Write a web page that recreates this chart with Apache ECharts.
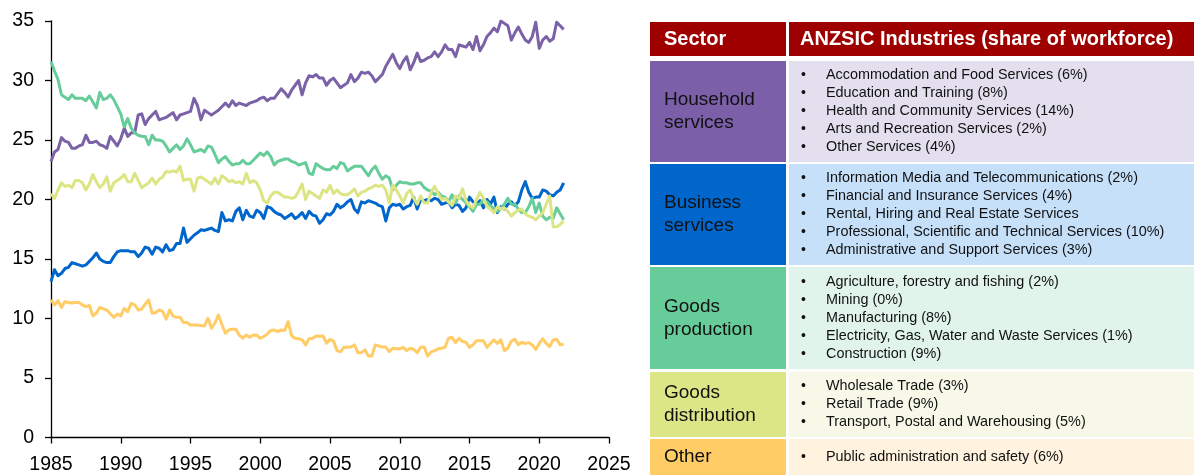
<!DOCTYPE html>
<html><head><meta charset="utf-8">
<script src="https://cdn.jsdelivr.net/npm/echarts@6/dist/echarts.min.js"></script>
<style>html,body{margin:0;padding:0;background:#fff}#c{width:1194px;height:475px}</style>
</head><body><div id="c"></div>
<script>
// Quarterly data, first point = 1985 Q1, one value per quarter
const startYear = 1985;
const seriesNames = ['Household services', 'Business services', 'Goods production', 'Goods distribution', 'Other'];
const household = [
23.2,24.0,24.2,25.2, 24.9,24.8,24.3,24.3, 24.5,24.6,25.4,24.8, 24.8,24.9,24.6,24.5,
24.3,25.3,24.9,24.5, 25.1,26.0,25.3,25.6, 25.6,27.1,27.2,26.3, 26.8,27.1,27.4,26.7,
26.8,26.9,27.1,27.3, 26.7,27.1,27.2,27.3, 27.4,28.5,27.9,26.7, 27.5,27.3,27.1,27.3,
27.5,27.8,28.1,27.8, 28.3,27.9,28.1,28.0, 27.9,28.1,28.2,28.3, 28.5,28.6,28.3,28.5,
28.5,28.9,29.3,29.0, 28.6,29.2,29.6,30.0, 28.8,29.8,30.4,30.3, 30.5,30.2,30.2,29.6,
30.0,30.2,29.8,29.4, 29.6,29.8,30.5,29.9, 30.2,30.7,30.6,30.7, 30.4,29.9,30.2,30.5,
31.2,31.7,32.2,31.5, 31.0,31.6,32.0,30.9, 31.5,32.3,31.6,31.7, 31.9,32.0,32.4,32.0,
32.4,33.0,32.6,32.6, 32.0,33.0,32.9,32.8, 33.2,32.6,33.7,32.5, 33.0,33.7,34.0,34.4,
34.1,35.0,34.8,34.6, 33.4,34.0,34.5,33.9, 33.4,33.2,33.7,34.9, 32.7,33.4,33.7,33.3,
33.5,34.9,34.6,34.3
];
const business = [
13.1,14.1,13.6,13.8, 14.2,14.3,14.7,14.6, 14.5,14.4,14.5,14.8, 15.1,15.5,15.0,14.8,
14.7,14.7,15.2,15.6, 15.7,15.7,15.7,15.6, 15.6,15.2,15.5,16.0, 15.9,15.4,16.0,15.9,
15.6,16.2,15.7,15.8, 16.3,16.3,17.6,16.4, 16.7,17.0,17.2,17.45, 17.4,17.5,17.6,17.4,
17.3,18.9,18.2,18.3, 18.2,19.0,19.3,18.3, 19.1,18.6,18.5,19.1, 18.9,18.4,19.4,19.3,
19.0,18.8,18.7,18.4, 18.6,18.8,18.4,18.6, 18.9,18.4,19.0,18.7, 18.6,18.0,18.3,18.8,
18.7,19.0,19.6,19.3, 19.5,19.8,20.0,19.2, 18.9,19.8,19.7,19.9, 19.8,19.7,19.5,19.4,
18.2,19.3,19.6,19.5, 19.6,19.2,19.4,19.5, 20.2,19.2,20.0,19.9, 20.0,19.9,20.1,20.0,
19.6,19.7,19.8,19.3, 19.6,19.5,19.0,19.3, 20.2,19.8,19.6,19.9, 19.3,20.0,19.6,20.2,
18.9,19.4,19.2,19.6, 19.8,19.5,19.8,20.8, 21.5,20.6,20.1,20.2, 20.2,20.8,20.7,20.4,
20.3,20.6,20.8,21.4
];
const production = [
31.6,30.8,30.1,28.8, 28.6,28.4,28.8,28.5, 28.5,28.5,28.3,28.7, 28.2,27.7,29.0,28.4,
28.5,28.8,28.4,27.8, 27.2,26.1,26.8,26.0, 25.6,25.4,25.3,25.3, 24.6,25.4,25.0,25.0,
24.9,24.5,24.0,24.3, 24.6,24.2,24.5,25.1, 24.6,24.0,24.1,24.2, 24.0,24.5,24.4,23.8,
23.1,23.4,23.6,23.2, 22.9,23.0,23.0,23.3, 23.0,23.0,23.3,23.6, 23.9,23.7,24.0,23.6,
22.9,23.2,23.3,23.4, 23.4,23.2,23.1,22.9, 23.0,23.1,22.2,22.1, 23.0,22.8,22.6,22.5,
22.5,22.8,22.6,23.1, 23.0,22.4,22.6,22.8, 22.8,22.8,22.4,22.0, 22.5,22.8,22.2,21.7,
22.0,21.8,20.8,21.2, 21.5,21.4,21.4,21.3, 21.3,21.4,21.4,21.0, 20.8,20.7,20.4,20.6,
20.3,20.2,19.8,20.4, 19.7,20.3,20.0,19.7, 19.4,19.0,19.6,19.6, 20.0,19.8,19.5,19.2,
19.0,19.3,19.6,20.1, 19.6,19.6,19.2,18.9, 18.9,19.4,20.1,18.9, 19.7,18.6,18.3,18.5,
18.4,19.3,18.8,18.3
];
const distribution = [
20.5,20.1,20.8,21.4, 21.1,21.2,21.0,21.6, 21.6,21.4,20.8,21.3, 22.1,21.5,21.0,21.3,
21.9,20.7,21.4,21.6, 21.8,22.1,21.5,21.5, 22.2,21.6,21.0,21.2, 21.4,21.8,21.3,21.7,
21.9,22.35,22.3,22.4, 22.3,22.8,21.6,21.7, 21.7,20.7,21.8,21.9, 21.7,21.5,21.3,21.8,
21.3,22.0,21.8,21.5, 21.6,21.4,21.5,21.3, 22.2,21.4,21.6,21.4, 20.8,19.9,19.7,20.3,
20.6,20.6,20.4,20.2, 20.2,20.1,20.2,20.7, 21.3,20.0,20.7,20.5, 20.3,20.1,20.8,20.6,
21.2,20.5,20.8,20.5, 20.4,20.4,20.6,20.9, 20.3,20.6,20.7,20.9, 21.0,21.2,21.1,21.2,
20.8,19.7,21.2,20.8, 20.3,19.7,20.5,20.8, 20.1,19.6,20.3,19.7, 19.7,20.6,21.1,20.5,
20.0,20.1,19.8,19.5, 20.3,20.1,20.9,19.9, 19.5,19.3,20.0,20.6, 20.1,19.4,19.2,18.9,
19.4,19.2,19.3,19.0, 18.6,18.9,19.1,19.2, 18.8,18.6,18.5,18.3, 18.6,18.9,19.6,20.3,
17.7,17.7,17.9,18.2
];
const other = [
11.56,11.14,11.5,10.94, 11.42,11.35,11.3,11.34, 11.34,11.14,11.0,11.1, 10.22,10.44,10.94,10.8,
10.72,10.4,10.1,10.38, 10.22,10.86,10.58,11.28, 11.14,10.72,10.78,11.2, 11.56,10.44,10.5,10.72,
10.6,9.94,10.72,10.2, 10.1,10.1,9.66,9.66, 9.46,9.46,9.46,9.4, 9.38,10.02,9.18,9.6,
10.3,9.5,8.76,9.04, 9.1,9.1,8.6,8.34, 8.62,8.42,8.62,8.6, 8.34,8.48,8.7,9.0,
9.04,8.9,9.04,9.0, 9.74,8.54,8.34,8.3, 8.2,7.78,8.3,8.34, 8.53,8.5,8.53,7.92,
8.25,8.1,7.3,7.2, 7.58,7.58,7.6,7.78, 7.13,7.13,7.36,6.85, 6.85,7.78,7.7,7.6,
7.6,7.22,7.5,7.45, 7.45,7.58,7.3,7.5, 7.4,7.13,7.58,7.6, 6.85,7.2,7.3,7.45,
7.5,7.6,8.34,8.42, 7.97,8.34,8.06,8.0, 7.58,7.78,8.14,8.14, 8.14,7.58,7.9,8.2,
7.9,8.2,7.3,7.5, 8.1,8.25,7.8,8.0, 7.9,7.97,7.78,7.4, 7.9,8.3,7.9,7.64,
8.2,8.25,7.78,7.86
];
const xTicks = { min: 1985, max: 2025, step: 5 };
const yTicks = { min: 0, max: 35, step: 5 };

// Table content
const headers = ['Sector', 'ANZSIC Industries (share of workforce)'];
const sectorLabels = [['Household', 'services'], ['Business', 'services'], ['Goods', 'production'], ['Goods', 'distribution'], ['Other']];
const industries = [
  ['Accommodation and Food Services (6%)', 'Education and Training (8%)', 'Health and Community Services (14%)', 'Arts and Recreation Services (2%)', 'Other Services (4%)'],
  ['Information Media and Telecommunications (2%)', 'Financial and Insurance Services (4%)', 'Rental, Hiring and Real Estate Services', 'Professional, Scientific and Technical Services (10%)', 'Administrative and Support Services (3%)'],
  ['Agriculture, forestry and fishing (2%)', 'Mining (0%)', 'Manufacturing (8%)', 'Electricity, Gas, Water and Waste Services (1%)', 'Construction (9%)'],
  ['Wholesale Trade (3%)', 'Retail Trade (9%)', 'Transport, Postal and Warehousing (5%)'],
  ['Public administration and safety (6%)']
];

// Styling / layout (not data)
const lineColors = ['#7B62A8', '#0066CC', '#66CC99', '#DCE584', '#FFCC66'];
const darkCell = ['#7B5FA8', '#0066CC', '#66CC99', '#DCE686', '#FFCC66'];
const lightCell = ['#E3DFEE', '#C6E0FA', '#E0F4EB', '#F7F8E7', '#FFF3E0'];
const rowBounds = [[61, 162], [164, 265], [267, 369], [372, 437], [439, 475]];
const FONT = "'Liberation Sans', Arial, sans-serif";
const col1 = [650, 786], col2 = [789, 1194];

function toPairs(arr) { return arr.map((v, i) => [startYear + i / 4, v]); }

const seriesData = [household, business, production, distribution, other];
const drawOrder = [0, 4, 1, 2, 3];

const graphics = [];
// header
graphics.push({ type: 'rect', shape: { x: col1[0], y: 22, width: col1[1] - col1[0], height: 34 }, style: { fill: '#9E0000' }, silent: true });
graphics.push({ type: 'rect', shape: { x: col2[0], y: 22, width: col2[1] - col2[0], height: 34 }, style: { fill: '#9E0000' }, silent: true });
graphics.push({ type: 'text', x: 664, y: 39, style: { text: headers[0], fill: '#fff', font: 'bold 20px ' + FONT, verticalAlign: 'middle', align: 'left' }, silent: true });
graphics.push({ type: 'text', x: 800, y: 39, style: { text: headers[1], fill: '#fff', font: 'bold 20px ' + FONT, verticalAlign: 'middle', align: 'left' }, silent: true });

rowBounds.forEach((b, r) => {
  const h = b[1] - b[0];
  const cy = (b[0] + b[1]) / 2;
  graphics.push({ type: 'rect', shape: { x: col1[0], y: b[0], width: col1[1] - col1[0], height: h }, style: { fill: darkCell[r] }, silent: true });
  graphics.push({ type: 'rect', shape: { x: col2[0], y: b[0], width: col2[1] - col2[0], height: h }, style: { fill: lightCell[r] }, silent: true });
  const lbl = sectorLabels[r];
  lbl.forEach((t, j) => {
    graphics.push({ type: 'text', x: 664, y: cy + (j - (lbl.length - 1) / 2) * 23, style: { text: t, fill: '#111', font: '19px ' + FONT, verticalAlign: 'middle', align: 'left' }, silent: true });
  });
  const items = industries[r];
  items.forEach((t, j) => {
    const y = cy + (j - (items.length - 1) / 2) * 18;
    graphics.push({ type: 'text', x: 801, y: y, style: { text: '\u2022', fill: '#111', font: '14px ' + FONT, verticalAlign: 'middle', align: 'left' }, silent: true });
    graphics.push({ type: 'text', x: 826, y: y, style: { text: t, fill: '#111', font: '14.4px ' + FONT, verticalAlign: 'middle', align: 'left' }, silent: true });
  });
});

const chart = echarts.init(document.getElementById('c'), null, { renderer: 'canvas' });
chart.setOption({
  animation: false,
  backgroundColor: '#fff',
  textStyle: { fontFamily: FONT },
  grid: { left: 51, top: 21, width: 558, height: 416.5, containLabel: false },
  xAxis: {
    type: 'value', min: xTicks.min, max: xTicks.max, interval: xTicks.step,
    axisLine: { show: true, onZero: false, lineStyle: { color: '#000', width: 1.3 } },
    axisTick: { show: true, inside: false, length: 6, lineStyle: { color: '#000', width: 1.3 } },
    axisLabel: { color: '#000', fontSize: 19.5, margin: 17, fontFamily: FONT, formatter: v => String(v) },
    splitLine: { show: false }
  },
  yAxis: {
    type: 'value', min: yTicks.min, max: yTicks.max, interval: yTicks.step,
    axisLine: { show: true, lineStyle: { color: '#000', width: 1.3 } },
    axisTick: { show: true, inside: false, length: 6, lineStyle: { color: '#000', width: 1.3 } },
    axisLabel: { color: '#000', fontSize: 19.5, margin: 17, fontFamily: FONT, formatter: v => String(v) },
    splitLine: { show: false }
  },
  series: drawOrder.map(k => ({
    name: seriesNames[k],
    type: 'line',
    data: toPairs(seriesData[k]),
    showSymbol: false,
    symbol: 'none',
    smooth: false,
    lineStyle: { color: lineColors[k], width: 3, join: 'round' },
    itemStyle: { color: lineColors[k] },
    z: 2
  })),
  graphic: graphics
});
</script>
</body></html>
